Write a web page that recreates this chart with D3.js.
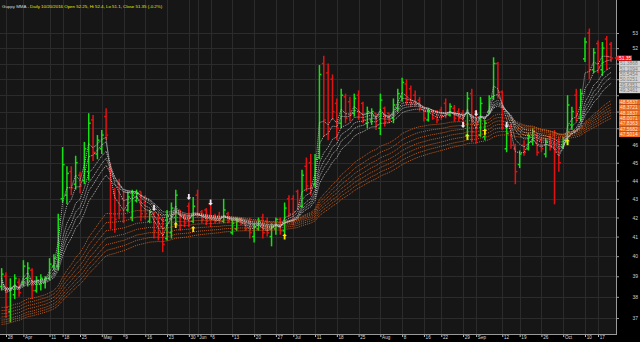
<!DOCTYPE html>
<html>
<head>
<meta charset="utf-8">
<script src="https://cdnjs.cloudflare.com/ajax/libs/d3/7.8.5/d3.min.js"></script>
<style>
html, body { margin: 0; padding: 0; background: #000; }
svg { display: block; font-family: "Liberation Sans", Arial, sans-serif; }
</style>
</head>
<body>
<div id="chart"></div>
<script>
const width = 640
const height = 342
const plot = { left: 0, right: 616, top: 0, bottom: 334 }

// trading days, 2016 (MM-DD)
const dates = [
  "03-23",
  "03-28","03-29","03-30","03-31","04-01",
  "04-04","04-05","04-06","04-07","04-08",
  "04-11","04-12","04-13",
  "04-18","04-20","04-21","04-22",
  "04-25","04-26","04-27","04-28","04-29",
  "05-02","05-03","05-04","05-05","05-06",
  "05-09","05-10","05-11","05-12","05-13",
  "05-16","05-17","05-18","05-19","05-20",
  "05-23","05-24","05-25","05-26","05-27",
  "05-30","05-31","06-01","06-02","06-03",
  "06-06","06-07","06-08","06-09","06-10",
  "06-13","06-14","06-15","06-16","06-17",
  "06-20","06-21","06-22","06-23","06-24",
  "06-27","06-28","06-29","06-30","07-01",
  "07-04","07-05","07-07","07-08",
  "07-11","07-12","07-13","07-14","07-15",
  "07-18","07-19","07-20","07-21","07-22",
  "07-25","07-26","07-27","07-28","07-29",
  "08-01","08-02","08-03","08-04","08-05",
  "08-08","08-09","08-10","08-11","08-12",
  "08-16","08-17","08-18","08-19",
  "08-22","08-23","08-24","08-25","08-26",
  "08-29","08-30","08-31","09-01","09-02",
  "09-06","09-07","09-08","09-09",
  "09-12","09-14","09-15","09-16",
  "09-19","09-20","09-21","09-22","09-23",
  "09-26","09-27","09-28","09-29","09-30",
  "10-03","10-04","10-05","10-06","10-07",
  "10-10","10-13","10-14",
  "10-17","10-18","10-19","10-20"
]

// open, high, low, close
const ohlc = [
  [38.5,39.4,38.3,39.1],
  [39.0,39.2,37.0,37.5],[37.3,38.9,36.8,38.4],[38.1,39.1,37.9,38.9],[38.7,38.9,38.0,38.2],[38.7,39.8,38.5,39.5],
  [38.9,39.7,38.5,39.4],[39.3,39.4,37.9,38.3],[38.3,39.0,38.2,38.8],[38.6,39.1,38.3,38.9],[38.7,39.0,38.4,38.9],
  [38.9,39.9,38.8,39.6],[39.5,40.1,39.3,39.9],[39.5,42.2,39.3,41.9],
  [43.0,45.9,42.8,44.9],[43.2,44.8,42.7,44.4],[44.5,44.8,43.2,43.6],[43.8,45.4,43.5,45.0],
  [44.3,44.5,43.3,43.7],[44.0,46.2,43.8,45.8],[44.5,47.9,44.0,47.3],[47.5,47.8,45.1,45.6],[45.5,46.6,45.2,46.3],
  [45.8,46.9,45.5,46.6],[47.7,48.2,46.3,46.6],[44.7,45.0,41.4,42.0],[43.3,43.6,41.2,41.9],[43.8,44.1,41.9,42.4],
  [43.0,43.4,41.7,42.0],[42.4,43.4,42.3,43.1],[42.0,43.5,41.8,43.2],[42.9,43.5,42.8,43.3],[43.4,43.4,41.8,42.2],
  [42.8,43.2,41.9,42.2],[41.8,42.4,41.7,42.3],[42.2,42.3,40.9,41.3],[42.0,42.2,40.8,41.1],[41.5,42.0,40.2,40.6],
  [40.9,42.4,40.8,42.1],[41.2,42.8,40.9,42.5],[42.0,43.5,41.7,43.2],[42.4,42.4,41.3,41.6],[42.1,42.2,41.5,41.7],
  [42.6,42.8,41.5,41.8],[41.8,43.1,41.7,42.6],[43.2,43.5,42.0,42.2],[42.3,42.4,41.7,41.9],[42.4,42.5,41.6,41.8],
  [42.7,42.9,41.5,41.9],[42.0,42.2,41.7,41.8],[42.1,42.3,41.7,41.8],[41.8,43.0,41.7,42.4],[42.2,42.3,41.7,41.8],
  [41.2,41.9,41.1,41.7],[41.4,42.0,41.3,41.8],[41.9,42.0,41.6,41.7],[41.7,41.8,41.3,41.4],[41.8,42.0,40.9,41.2],
  [41.0,41.7,40.7,41.5],[41.4,42.0,41.3,41.8],[42.0,42.2,40.9,41.2],[41.8,42.0,41.0,41.2],[41.0,41.7,40.5,41.5],
  [41.4,42.0,41.1,41.9],[41.9,42.0,41.1,41.3],[41.3,42.8,41.0,42.5],[43.0,43.2,42.0,42.2],[43.0,43.2,41.6,42.3],
  [43.4,43.5,42.4,42.7],[42.6,44.6,42.5,44.3],[44.8,45.3,43.4,43.7],[45.0,45.5,43.2,43.6],
  [43.8,45.5,43.6,45.2],[45.3,50.9,45.2,50.3],[51.0,51.5,46.5,47.5],[50.4,51.0,46.3,47.0],[50.0,50.3,47.5,48.0],
  [48.5,48.8,46.3,47.0],[47.3,49.4,47.0,49.0],[48.9,49.1,47.3,47.6],[48.6,48.9,47.4,47.8],[47.9,49.1,47.7,48.8],
  [49.0,49.3,47.5,47.8],[48.5,48.6,47.3,47.5],[47.3,48.3,47.0,48.0],[47.5,48.2,47.2,48.0],[47.9,47.9,46.9,47.2],
  [47.0,49.1,46.6,48.7],[48.2,48.3,47.1,47.4],[47.9,47.9,47.3,47.5],[47.6,48.8,47.3,48.4],[48.2,49.4,48.0,49.1],
  [48.9,50.1,48.6,49.8],[49.7,50.0,48.4,48.7],[49.4,49.6,48.3,48.5],[49.0,49.3,48.3,48.5],[48.7,48.9,48.0,48.2],
  [48.3,48.3,47.4,47.6],[47.5,48.2,47.4,48.0],[48.0,48.1,47.5,47.6],[48.0,48.1,47.3,47.5],
  [48.1,48.3,47.5,47.7],[48.5,48.8,47.6,47.8],[47.8,48.5,47.7,48.3],[48.2,48.4,47.4,47.6],[48.0,48.2,47.4,47.6],
  [47.9,48.1,47.1,47.3],[46.6,49.2,46.3,48.8],[49.1,49.4,46.2,46.8],[48.0,48.1,46.1,46.5],[46.6,48.9,46.5,48.5],
  [46.5,47.5,46.3,47.3],[48.0,49.0,47.9,48.8],[48.9,51.4,48.7,51.0],[51.0,51.1,48.8,49.2],
  [49.2,49.3,46.9,47.4],[45.8,47.2,45.6,46.7],[47.1,47.3,45.8,46.0],[45.8,46.1,43.8,44.5],
  [44.9,45.7,44.7,45.5],[46.0,46.3,45.4,45.6],[45.8,46.7,45.7,46.5],[46.2,47.0,46.0,46.8],[46.6,46.7,45.4,45.6],
  [46.3,46.5,45.6,45.8],[45.5,46.4,45.3,46.2],[46.5,46.7,45.7,45.9],[46.6,46.9,42.7,45.6],[46.2,46.5,44.5,45.0],
  [45.9,46.5,45.8,46.3],[46.2,49.0,46.0,48.4],[47.2,48.3,46.9,48.0],[49.0,49.4,47.4,47.8],[47.6,49.4,47.4,49.1],
  [51.3,52.7,51.1,52.4],[53.0,53.3,50.0,50.6],[50.6,52.0,50.4,51.7],
  [52.3,52.5,50.4,50.8],[50.6,52.4,50.2,52.0],[52.6,52.8,50.6,51.45],[52.25,52.4,51.1,51.35]
]

// Guppy multiple moving averages (EMA periods) and their values at the first bar
const shortPeriods = [3, 5, 8, 10, 12, 15]
const shortSeeds = [38.9, 38.8, 38.7, 38.6, 38.5, 38.4]
const longPeriods = [30, 35, 40, 45, 50, 55, 60]
const longSeeds = [37.5, 37.35, 37.2, 37.05, 36.9, 36.8, 36.7]

// last values printed on the price axis
const shortLabels = ["51.3868", "51.1094", "50.5454", "50.0251", "49.6351", "49.3461"]
const longLabels = ["48.5837", "48.3721", "48.1837", "48.0071", "47.8363", "47.5682", "47.5014"]

// signal arrows
const sellDates = ["05-18", "05-30", "06-06", "08-29", "09-01", "09-14"]
const sellPrices = [42.5, 43.1, 42.8, 47.2, 47.9, 47.2]
const buyDates = ["05-25", "05-31", "06-29", "08-30", "09-06", "10-04"]
const buyPrices = [41.6, 41.4, 41.0, 46.5, 46.8, 46.2]

const priceTicks = [37, 38, 39, 40, 41, 42, 43, 44, 45, 46, 47, 48, 49, 50, 51, 52, 53]
const tickDates = ["03-28","04-01","04-11","04-18","04-25","05-02","05-09","05-16","05-23","05-30",
  "06-01","06-06","06-13","06-20","06-27","07-01","07-11","07-18","07-25","08-01","08-08","08-16",
  "08-22","08-29","09-01","09-12","09-19","09-26","10-03","10-10","10-17"]
const tickLabels = ["28","Apr","11","18","25","May","9","16","23","30",
  "Jun","6","13","20","27","Jul","11","18","25","Aug","8","16",
  "22","29","Sep","12","19","26","Oct","10","17"]

const bars = dates.map((d, i) => ({ date: d, o: ohlc[i][0], h: ohlc[i][1], l: ohlc[i][2], c: ohlc[i][3] }))
const closes = bars.map(b => b.c)

const ema = (values, n, seed) => {
    const k = 2 / (n + 1)
    let e = seed
    return values.map((v, i) => (e = i === 0 ? seed : e + k * (v - e)))
}

const x = d3.scalePoint().domain(dates).range([1.65, 611.1])
const y = d3.scaleLog().domain([37, 53]).range([318, 33])

// value labels on the price axis, stacked so they don't overlap
const lh = 5.4
const last = bars[bars.length - 1]
const closeY = y(last.c)
let cursor = closeY
const stacked = []
shortLabels.concat(longLabels).forEach((t, i) => {
    const cy = Math.max(y(+t), cursor + lh)
    stacked.push({ text: t, cy: cy, long: i >= shortLabels.length })
    cursor = cy
})
const stackTop = closeY - lh / 2
const stackBottom = cursor + lh / 2

const svg = d3.select("#chart")
    .append("svg")
    .attr("width", width)
    .attr("height", height)

svg.append("rect")
    .attr("width", width).attr("height", height)
    .attr("fill", "#000")

svg.append("rect")
    .attr("x", plot.left).attr("y", plot.top)
    .attr("width", plot.right - plot.left).attr("height", plot.bottom - plot.top)
    .attr("fill", "#161616")

// grid
svg.append("g")
    .selectAll("line")
    .data(priceTicks)
    .join("line")
    .attr("x1", plot.left).attr("x2", plot.right)
    .attr("y1", d => Math.round(y(d)) + 0.5).attr("y2", d => Math.round(y(d)) + 0.5)
    .attr("stroke", "#2b2b2b")

svg.append("g")
    .selectAll("line")
    .data(tickDates)
    .join("line")
    .attr("x1", d => Math.round(x(d)) + 0.5).attr("x2", d => Math.round(x(d)) + 0.5)
    .attr("y1", plot.top).attr("y2", plot.bottom)
    .attr("stroke", "#2b2b2b")

// OHLC bars
const barG = svg.append("g")
    .selectAll("g")
    .data(bars)
    .join("g")
    .attr("stroke", d => d.c >= d.o ? "#14e014" : "#e31212")
    .attr("stroke-width", 1.5)

barG.append("line")
    .attr("x1", d => x(d.date)).attr("x2", d => x(d.date))
    .attr("y1", d => y(d.h)).attr("y2", d => y(d.l))
barG.append("line")
    .attr("x1", d => x(d.date) - 2).attr("x2", d => x(d.date))
    .attr("y1", d => y(d.o)).attr("y2", d => y(d.o))
barG.append("line")
    .attr("x1", d => x(d.date)).attr("x2", d => x(d.date) + 2)
    .attr("y1", d => y(d.c)).attr("y2", d => y(d.c))

// moving averages
const line = d3.line()
    .x((v, i) => x(dates[i]))
    .y(v => y(v))

const longSeries = longPeriods.map((n, j) => ema(closes, n, longSeeds[j]))
const shortSeries = shortPeriods.map((n, j) => ema(closes, n, shortSeeds[j]))

svg.append("g")
    .selectAll("path")
    .data(longSeries)
    .join("path")
    .attr("d", line)
    .attr("fill", "none")
    .attr("stroke", "#d8611e")
    .attr("stroke-width", 0.9)
    .attr("stroke-dasharray", "1,1")

svg.append("g")
    .selectAll("path")
    .data(shortSeries)
    .join("path")
    .attr("d", line)
    .attr("fill", "none")
    .attr("stroke", "#c4c4c4")
    .attr("stroke-width", 0.9)
    .attr("stroke-dasharray", "1,1")

// arrows
const arrow = (cx, cy, dir) => {
    const t = cy - 3 * dir, b = cy + 3 * dir, m = cy - 0.6 * dir
    return `M${cx},${t}L${cx + 2.3},${m}L${cx + 0.9},${m}L${cx + 0.9},${b}L${cx - 0.9},${b}L${cx - 0.9},${m}L${cx - 2.3},${m}Z`
}

svg.append("g")
    .selectAll("path")
    .data(sellDates)
    .join("path")
    .attr("d", (d, i) => arrow(x(d), y(sellPrices[i]), -1))
    .attr("fill", "#f2e6f0")

svg.append("g")
    .selectAll("path")
    .data(buyDates)
    .join("path")
    .attr("d", (d, i) => arrow(x(d), y(buyPrices[i]), 1))
    .attr("fill", "#ffe600")

// axis panels
svg.append("rect")
    .attr("x", plot.right).attr("y", 0)
    .attr("width", width - plot.right).attr("height", height)
    .attr("fill", "#000")
svg.append("rect")
    .attr("x", 0).attr("y", plot.bottom)
    .attr("width", width).attr("height", height - plot.bottom)
    .attr("fill", "#000")

// price labels that sit under the value boxes are not shown
const hidden = d => y(d) > stackTop - 2 && y(d) < stackBottom + 2

const yAxis = svg.append("g")
    .attr("transform", `translate(${plot.right + 0.5},0)`)
    .call(d3.axisRight(y).tickValues(priceTicks)
        .tickFormat(d => hidden(d) ? "" : d3.format("d")(d))
        .tickSize(2.5).tickPadding(13.5))
yAxis.select(".domain").remove()
yAxis.selectAll("line").attr("stroke", "#9a9a9a")
yAxis.selectAll("text").attr("fill", "#d0d0d0").style("font-size", "5px")

const xAxis = svg.append("g")
    .attr("transform", `translate(0,${plot.bottom + 0.5})`)
    .call(d3.axisBottom(x).tickValues(tickDates).tickFormat((d, i) => tickLabels[i]).tickSize(2.5).tickSizeOuter(0))
xAxis.select(".domain").remove()
xAxis.selectAll("line").attr("stroke", "#bdbdbd")
xAxis.selectAll("text")
    .attr("fill", "#d8d8d8")
    .attr("text-anchor", "start")
    .attr("x", 1.2)
    .attr("y", 1.2)
    .style("font-size", "4.6px")

svg.append("line")
    .attr("x1", plot.right + 0.5).attr("x2", plot.right + 0.5)
    .attr("y1", 0).attr("y2", plot.bottom + 1)
    .attr("stroke", "#9a9a9a")
svg.append("line")
    .attr("x1", 0).attr("x2", plot.right + 1)
    .attr("y1", plot.bottom + 0.5).attr("y2", plot.bottom + 0.5)
    .attr("stroke", "#9a9a9a")

const lab = svg.append("g")
    .selectAll("g")
    .data(stacked)
    .join("g")
lab.append("rect")
    .attr("x", 619).attr("y", d => d.cy - lh / 2)
    .attr("width", 21).attr("height", lh)
    .attr("fill", d => d.long ? "#f26a1e" : "#d2d2d2")
lab.append("text")
    .attr("x", 620).attr("y", d => d.cy)
    .attr("dy", "0.36em")
    .attr("fill", d => d.long ? "#ffe2cc" : "#7c7c7c")
    .style("font-size", "4.9px")
    .text(d => d.text)

svg.append("path")
    .attr("d", `M614.5,${closeY}L618,${closeY - lh / 2}L632,${closeY - lh / 2}L632,${closeY + lh / 2}L618,${closeY + lh / 2}Z`)
    .attr("fill", "#f01818")
svg.append("text")
    .attr("x", 619).attr("y", closeY).attr("dy", "0.36em")
    .attr("fill", "#fff")
    .style("font-size", "4.9px")
    .text(d3.format(".2f")(last.c))

// title
const title = svg.append("text")
    .attr("x", 2).attr("y", 7.5)
    .style("font-size", "4.4px")
title.append("tspan").attr("fill", "#d8d8d8").text("Guppy MMA")
title.append("tspan").attr("fill", "#e8e800")
    .text(" - Daily 10/20/2016 Open 52.25, Hi 52.4, Lo 51.1, Close 51.35 (-0.2%)")
</script>
</body>
</html>
